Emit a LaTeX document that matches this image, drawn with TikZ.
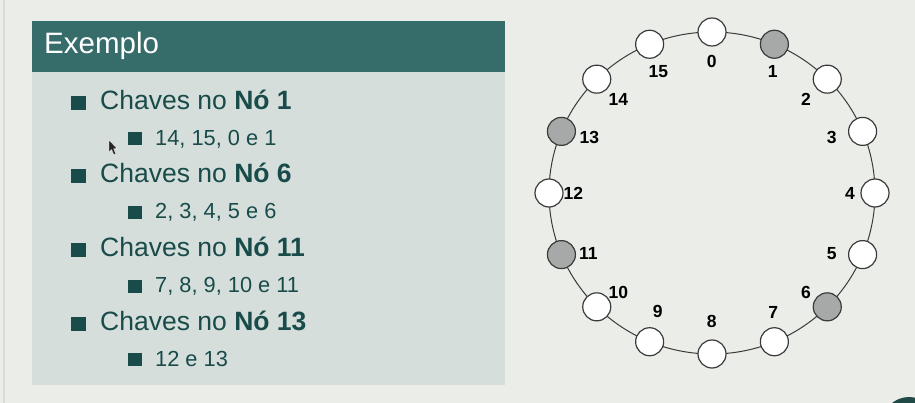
\documentclass[tikz,border=0pt]{standalone}
\usepackage{fontspec}
\setmainfont{Liberation Sans}
\definecolor{bgc}{HTML}{EBEDE9}
\definecolor{headc}{HTML}{366D6B}
\definecolor{bodyc}{HTML}{D5DEDB}
\definecolor{textc}{HTML}{184B49}
\definecolor{ringc}{HTML}{3A3A3A}
\definecolor{keyc}{HTML}{A7A9A9}
\definecolor{edgec}{HTML}{DADCD8}
\definecolor{logoc}{HTML}{1F4A45}
\tikzset{
  ringnode/.style={circle, draw=ringc, line width=1.2pt, fill=white, minimum size=28pt, inner sep=0pt},
  keynode/.style={ringnode, fill=keyc},
  numlabel/.style={font=\fontsize{17.5}{17.5}\selectfont\bfseries, text=black, inner sep=0pt},
  itemA/.style={anchor=base west, inner sep=0pt, text=textc, font=\fontsize{26.5}{26.5}\selectfont},
  itemB/.style={anchor=base west, inner sep=0pt, text=textc, font=\fontsize{21.8}{21.8}\selectfont},
  bulA/.style={fill=textc, inner sep=0pt, minimum width=15pt, minimum height=14pt},
  bulB/.style={fill=textc, inner sep=0pt, minimum width=14pt, minimum height=13pt}
}
\begin{document}
\begin{tikzpicture}[x=1pt,y=-1pt]
\useasboundingbox (0,0) rectangle (915,403);
\fill[bgc] (0,0) rectangle (915,403);
\draw[edgec, line width=2pt] (4,0) -- (4,403);
\begin{scope}
  \clip (0,0) rectangle (915,403);
  \fill[logoc] (909,424) circle (27);
\end{scope}
% left panel
\fill[bodyc] (32,72) rectangle (505,385);
\fill[headc] (32,21) rectangle (505,72);
\node[anchor=base west, inner sep=0pt, text=white, font=\fontsize{29.5}{29.5}\selectfont] (title) at (44,54) {Exemplo};
% items
\node[bulA] (ba1) at (78.2,103) {};
\node[itemA] (ia1) at (100,110) {Chaves no \textbf{Nó 1}};
\node[bulB] (bb1) at (134.7,139) {};
\node[itemB] (ib1) at (155,145.7) {14, 15, 0 e 1};
\node[bulA] (ba2) at (78.2,175.7) {};
\node[itemA] (ia2) at (100,182.7) {Chaves no \textbf{Nó 6}};
\node[bulB] (bb2) at (134.7,212.3) {};
\node[itemB] (ib2) at (155,219) {2, 3, 4, 5 e 6};
\node[bulA] (ba3) at (78.2,249.7) {};
\node[itemA] (ia3) at (100,256.7) {Chaves no \textbf{Nó 11}};
\node[bulB] (bb3) at (134.7,286) {};
\node[itemB] (ib3) at (155,292.7) {7, 8, 9, 10 e 11};
\node[bulA] (ba4) at (78.2,323.7) {};
\node[itemA] (ia4) at (100,330.7) {Chaves no \textbf{Nó 13}};
\node[bulB] (bb4) at (134.7,359.3) {};
\node[itemB] (ib4) at (155,366) {12 e 13};
% mouse cursor
\fill[black!85, draw=white, line width=0.3pt] (109,140) -- (109,152) -- (111.6,149.6) -- (113.8,154.6) -- (115.8,153.8) -- (113.6,148.8) -- (117,148.6) -- cycle;
% ring
\coordinate (ctr) at (712,193);
\draw[ringc, line width=1pt] (ctr) ellipse [x radius=163, y radius=161];
\foreach \i in {0,...,15}{
  \pgfmathsetmacro{\px}{712+163*sin(22.5*\i)}
  \pgfmathsetmacro{\py}{193-161*cos(22.5*\i)}
  \ifnum\i=1 \node[keynode] (n\i) at (\px,\py) {};
  \else\ifnum\i=6 \node[keynode] (n\i) at (\px,\py) {};
  \else\ifnum\i=11 \node[keynode] (n\i) at (\px,\py) {};
  \else\ifnum\i=13 \node[keynode] (n\i) at (\px,\py) {};
  \else \node[ringnode] (n\i) at (\px,\py) {};
  \fi\fi\fi\fi
}
\node[numlabel] (l0) at (711.7,61.7) {0};
\node[numlabel] (l1) at (772.7,71.7) {1};
\node[numlabel] (l2) at (806,99.3) {2};
\node[numlabel] (l3) at (831.7,137.7) {3};
\node[numlabel] (l4) at (850,193) {4};
\node[numlabel] (l5) at (831.7,253.3) {5};
\node[numlabel] (l6) at (806,292.3) {6};
\node[numlabel] (l7) at (773.3,312.3) {7};
\node[numlabel] (l8) at (711.7,321.7) {8};
\node[numlabel] (l9) at (657.7,311.7) {9};
\node[numlabel] (l10) at (618.3,292.3) {10};
\node[numlabel] (l11) at (588.3,253.3) {11};
\node[numlabel] (l12) at (573.3,193) {12};
\node[numlabel] (l13) at (589.3,137.7) {13};
\node[numlabel] (l14) at (618.3,99.3) {14};
\node[numlabel] (l15) at (658.3,71.7) {15};
\end{tikzpicture}
\end{document}
